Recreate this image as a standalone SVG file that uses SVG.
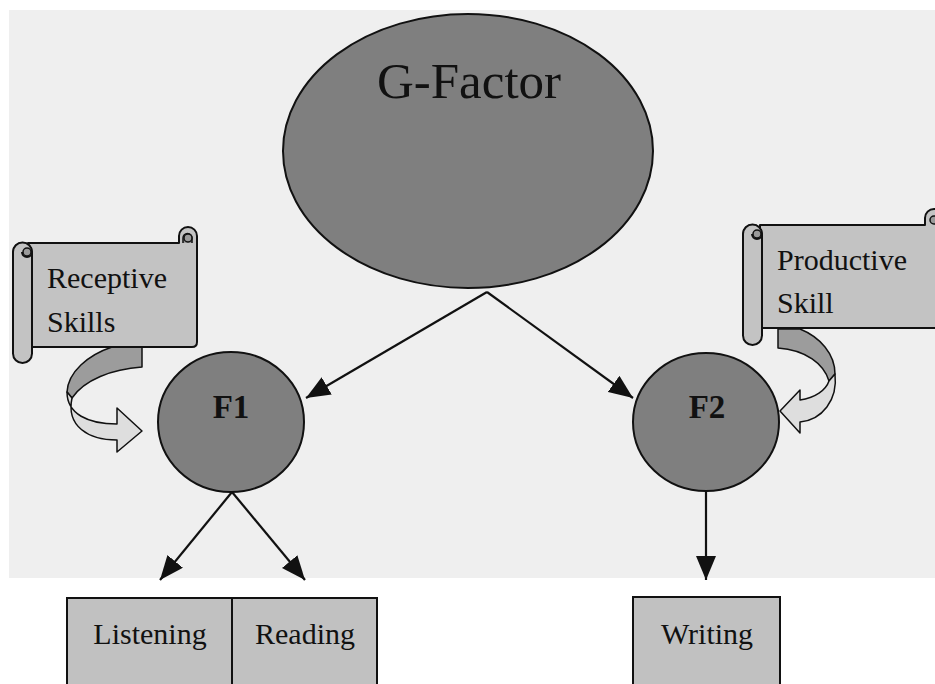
<svg xmlns="http://www.w3.org/2000/svg" width="935" height="684" viewBox="0 0 935 684">
  <style>
    .lbl { font-family: "Liberation Serif", "Times New Roman", serif; fill: #111; }
    .node { stroke: #111; stroke-width: 2; }
    .factor { fill: #7f7f7f; }
    .box { fill: #c1c1c1; stroke: #111; stroke-width: 2; }
    .scroll { fill: #c3c3c3; stroke: #111; stroke-width: 2; stroke-linejoin: round; }
    .curl { fill: #9a9a9a; stroke: #111; stroke-width: 1.5; }
    .back { fill: #9c9c9c; stroke: #111; stroke-width: 1.5; stroke-linejoin: round; }
    .front { fill: #dedede; stroke: #111; stroke-width: 1.5; stroke-linejoin: round; }
    .edge { stroke: #111; stroke-width: 2.2; fill: none; marker-end: url(#head); }
  </style>
  <defs>
    <marker id="head" markerUnits="userSpaceOnUse" markerWidth="26" markerHeight="20" refX="24" refY="10" orient="auto">
      <path d="M0,0 L24,10 L0,20 Z" fill="#111"/>
    </marker>
  </defs>

  <!-- shaded backdrop panel -->
  <rect x="0" y="0" width="935" height="684" fill="#ffffff"/>
  <rect x="9" y="10" width="926" height="568" fill="#efefef"/>

  <!-- connectors -->
  <g id="connectors">
    <line class="edge" x1="487" y1="292" x2="306" y2="398"/>
    <line class="edge" x1="487" y1="292" x2="633" y2="398"/>
    <line class="edge" x1="232" y1="492" x2="160" y2="580"/>
    <line class="edge" x1="232" y1="492" x2="305" y2="580"/>
    <line class="edge" x1="706" y1="491" x2="706" y2="580"/>
  </g>

  <!-- top-level factor -->
  <g id="g-factor">
    <ellipse class="node factor" cx="468" cy="151" rx="185" ry="137"/>
    <text class="lbl" x="469" y="98" font-size="51" text-anchor="middle">G-Factor</text>
  </g>

  <g id="f1">
    <ellipse class="node factor" cx="231" cy="422" rx="73" ry="70"/>
    <text class="lbl" x="231" y="418" font-size="33" font-weight="bold" text-anchor="middle">F1</text>
  </g>

  <g id="f2">
    <ellipse class="node factor" cx="706" cy="422" rx="73" ry="69"/>
    <text class="lbl" x="707" y="418" font-size="33" font-weight="bold" text-anchor="middle">F2</text>
  </g>

  <!-- skill boxes -->
  <g id="listening">
    <rect class="box" x="67" y="598" width="165" height="96"/>
    <text class="lbl" x="150" y="644" font-size="30" text-anchor="middle">Listening</text>
  </g>
  <g id="reading">
    <rect class="box" x="232" y="598" width="145" height="96"/>
    <text class="lbl" x="305" y="644" font-size="30" text-anchor="middle">Reading</text>
  </g>
  <g id="writing">
    <rect class="box" x="633" y="597" width="147" height="97"/>
    <text class="lbl" x="707" y="644" font-size="30" text-anchor="middle">Writing</text>
  </g>

  <!-- receptive skills banner with its curved pointer -->
  <g id="receptive-skills">
    <path class="back" d="M112,347 L142,347 L142,367 C112,369 84,380 72,398 L67,392 C68,372 88,355 112,347 Z"/>
    <path class="front" d="M67,392 C67,414 88,424 117,424 L117,408 L142,431 L117,452 L117,440 C88,440 66,426 72,398 Z"/>
    <path class="scroll" d="M179,243 L179,236 A9,9 0 0 1 197,236 L197,342 Q197,347 192,347 L28,347 L28,243 Z"/>
    <path class="curl" d="M183,243 L183,238 A4.5,4.5 0 0 1 192,238 L192,243"/>
    <circle class="curl" cx="188" cy="238" r="4"/>
    <rect class="scroll" x="13" y="243" width="19" height="120" rx="9.5"/>
    <path class="scroll" d="M13,252 A9.5,9.5 0 0 1 32,252 A5,5 0 0 1 22,252"/>
    <circle class="curl" cx="27" cy="252" r="4"/>
    <text class="lbl" x="47" y="288" font-size="30">Receptive</text>
    <text class="lbl" x="47" y="332" font-size="30">Skills</text>
  </g>

  <!-- productive skill banner with its curved pointer -->
  <g id="productive-skill">
    <path class="back" d="M778,329 L800,329 C820,337 835,354 835,374 L829,381 C824,364 806,350 778,348 Z"/>
    <path class="front" d="M835,374 C838,400 822,420 800,422 L800,433 L780,411 L800,390 L800,400 C815,398 826,390 829,381 Z"/>
    <path class="scroll" d="M925,225 L925,218 A9,9 0 0 1 943,218 L943,328 L760,328 L760,225 Z"/>
    <circle class="curl" cx="934" cy="220" r="4"/>
    <rect class="scroll" x="743" y="225" width="19" height="120" rx="9.5"/>
    <path class="scroll" d="M743,234 A9.5,9.5 0 0 1 762,234 A5,5 0 0 1 752,234"/>
    <circle class="curl" cx="757" cy="234" r="4"/>
    <text class="lbl" x="777" y="270" font-size="30">Productive</text>
    <text class="lbl" x="777" y="313" font-size="30">Skill</text>
  </g>
</svg>
